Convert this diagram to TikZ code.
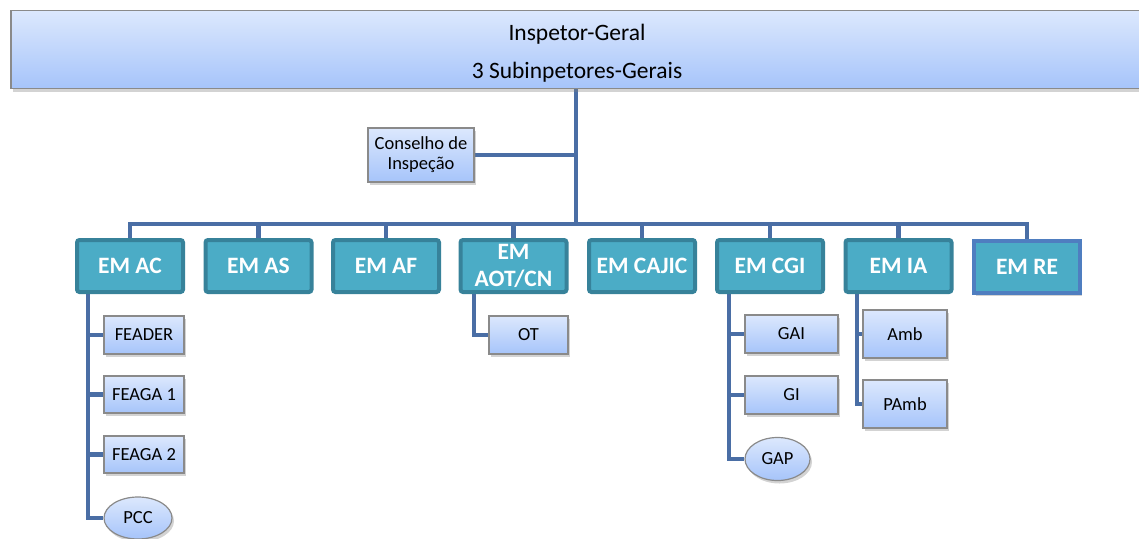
\documentclass[tikz,border=0pt]{standalone}
\usepackage{fontspec}
\setmainfont{Carlito}
\usetikzlibrary{shadows,shapes.geometric}
\pgfdeclarelayer{bg}
\pgfsetlayers{bg,main}
\definecolor{conn}{HTML}{4A6EA5}
\definecolor{lblue}{HTML}{DCE8FD}
\definecolor{dblue}{HTML}{A6C4FA}
\definecolor{emfill}{HTML}{4BACC6}
\definecolor{emedge}{HTML}{37829A}
\definecolor{reedge}{HTML}{4F7EC0}
\definecolor{redark}{HTML}{2B4570}
\definecolor{boxedge}{HTML}{8A8A8A}
\tikzset{
  link/.style={draw=conn, line width=4.6pt},
  shade/.style={drop shadow={opacity=0.35, shadow xshift=2pt, shadow yshift=-3pt}},
  unitbox/.style={rectangle, draw=boxedge, line width=1.2pt, top color=lblue, bottom color=dblue,
    shade, font=\fontsize{18.5}{20}\selectfont, align=center, inner sep=0pt},
  unitoval/.style={ellipse, draw=boxedge, line width=1.2pt, top color=lblue, bottom color=dblue,
    shade, font=\fontsize{18.5}{20}\selectfont, inner sep=0pt},
  embox/.style={rectangle, rounded corners=2.5pt, draw=emedge, line width=4pt, fill=emfill,
    text=white, font=\bfseries\fontsize{23.5}{24}\selectfont, align=center,
    minimum width=106pt, minimum height=52pt, inner sep=0pt},
}
\begin{document}
\begin{tikzpicture}[x=1pt, y=-1pt]
\useasboundingbox (0,0) rectangle (1139,538);
\begin{scope}
\clip (0,0) rectangle (1139,538);

% head office: frame, then its two lines of text
\node[unitbox, minimum width=1132pt, minimum height=78pt, line width=1.6pt] (top) at (577,49.5) {};
\node[align=center, inner sep=0pt, font=\fontsize{23.5}{38}\selectfont] (toptext) at (577,53.5)
      {Inspetor-Geral\\3 Subinpetores-Gerais};

\node[unitbox, minimum width=106pt, minimum height=54pt] (cons) at (421,155)
      {Conselho de\\Inspeção};

% directorates
\node[embox] (ac)  at (130,266)   {EM AC};
\node[embox] (as)  at (258.5,266) {EM AS};
\node[embox] (af)  at (386,266)   {EM AF};
\node[embox, font=\bfseries\fontsize{23.5}{27}\selectfont] (aot) at (513.5,266) {EM\\AOT/CN};
\node[embox] (caj) at (642,266)   {EM CAJIC};
\node[embox] (cgi) at (770,266)   {EM CGI};
\node[embox] (ia)  at (898.5,266) {EM IA};
\node[embox, draw=redark, double=reedge, double distance=3.4pt, line width=0.7pt,
      rounded corners=0pt, shade] (re) at (1027,267) {EM RE};

% units
\node[unitbox, minimum width=80pt, minimum height=38pt] (feader) at (144,335)   {FEADER};
\node[unitbox, minimum width=80pt, minimum height=37pt] (feaga1) at (144,394.5) {FEAGA 1};
\node[unitbox, minimum width=80pt, minimum height=37pt] (feaga2) at (144,454.5) {FEAGA 2};
\node[unitoval, minimum width=68pt, minimum height=42pt] (pcc)   at (138,518)   {PCC};

\node[unitbox, minimum width=79pt, minimum height=38pt] (ot) at (528.5,335) {OT};

\node[unitbox, minimum width=93pt, minimum height=38pt] (gai) at (791.5,334) {GAI};
\node[unitbox, minimum width=93pt, minimum height=38pt] (gi)  at (791.5,395) {GI};
\node[unitoval, minimum width=65pt, minimum height=43pt] (gap) at (777.5,459) {GAP};

\node[unitbox, minimum width=84pt, minimum height=48pt] (amb)  at (905,334) {Amb};
\node[unitbox, minimum width=84pt, minimum height=48pt] (pamb) at (905,404) {PAmb};

% junction points
\coordinate (hub) at (576,224);
\coordinate (acs) at (88,294);
\coordinate (aots) at (474,294);
\coordinate (cgis) at (729,294);
\coordinate (ias) at (857,294);

% connectors, drawn behind the boxes
\begin{pgfonlayer}{bg}
  \draw[link] (top.south -| hub) -- (hub);
  \draw[link] (cons.east) -- (cons.east -| hub);
  \draw[link] (ac.north) |- (hub) -| (re.north);
  \foreach \n in {as,af,aot,caj,cgi,ia}
    \draw[link] (\n.north) -- (\n.north |- hub);
  % EM AC units
  \draw[link] (acs) |- (pcc.west);
  \foreach \n in {feader,feaga1,feaga2}
    \draw[link] (\n.west) -- (\n.west -| acs);
  % EM AOT/CN unit
  \draw[link] (aots) |- (ot.west);
  % EM CGI units
  \draw[link] (cgis) |- (gap.west);
  \foreach \n in {gai,gi}
    \draw[link] (\n.west) -- (\n.west -| cgis);
  % EM IA units
  \draw[link] (ias) |- (pamb.west);
  \draw[link] (amb.west) -- (amb.west -| ias);
\end{pgfonlayer}
\end{scope}
\end{tikzpicture}
\end{document}
